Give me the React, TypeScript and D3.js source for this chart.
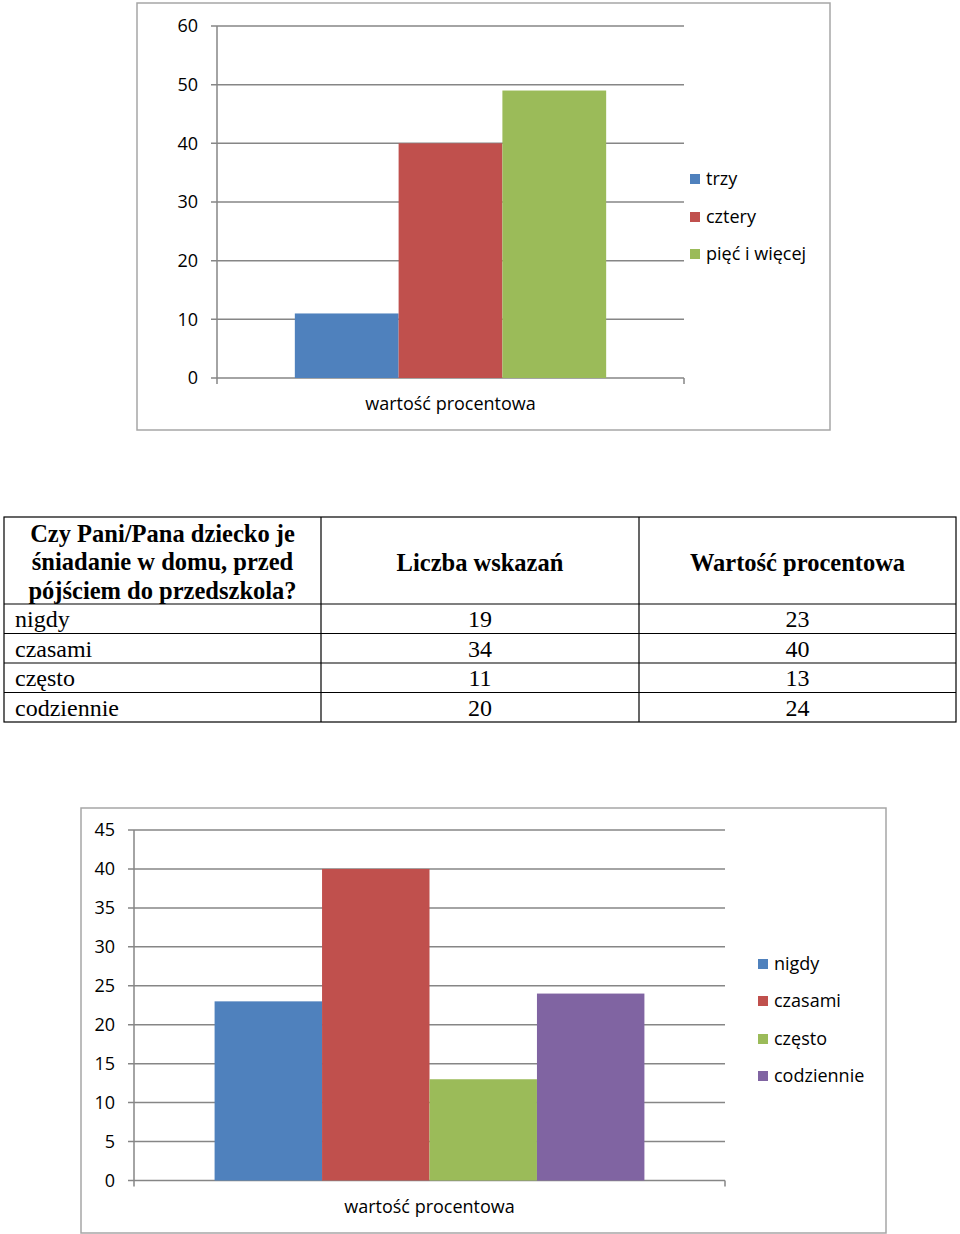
import React from "react";
import * as d3 from "d3";

// ---------- data ----------
const chart1Category = "wartość procentowa";
const chart1Series = ["trzy", "cztery", "pięć i więcej"];
const chart1Values = [11, 40, 49];
const chart1Ticks = [0, 10, 20, 30, 40, 50, 60];

const tableHeader = [
  ["Czy Pani/Pana dziecko je", "śniadanie w domu, przed", "pójściem do przedszkola?"],
  ["Liczba wskazań"],
  ["Wartość procentowa"],
];
const tableRows = ["nigdy", "czasami", "często", "codziennie"];
const tableCounts = [19, 34, 11, 20];
const tablePercents = [23, 40, 13, 24];

const chart2Category = "wartość procentowa";
const chart2Series = ["nigdy", "czasami", "często", "codziennie"];
const chart2Values = [23, 40, 13, 24];
const chart2Ticks = [0, 5, 10, 15, 20, 25, 30, 35, 40, 45];

const seriesColors = ["#4F81BD", "#C0504D", "#9BBB59", "#8064A2"];

// ---------- components ----------
type ChartProps = {
  frame: { x0: number; y0: number; x1: number; y1: number };
  plot: { x0: number; x1: number; yTop: number; yBottom: number };
  category: string;
  series: string[];
  values: number[];
  ticks: number[];
  legendX: number;
  legendYs: number[];
  labelY: number;
};

const sans = "'Open Sans', 'Noto Sans', sans-serif";

function BarChart(p: ChartProps) {
  const { frame, plot } = p;
  const yMax = p.ticks[p.ticks.length - 1];
  const y = d3.scaleLinear().domain([0, yMax]).range([plot.yBottom, plot.yTop]);
  const x = d3.scaleBand<string>().domain([p.category]).range([plot.x0, plot.x1]).paddingOuter(0).paddingInner(0);
  const n = p.series.length;
  const bw = x.bandwidth() / (n + 1.5);
  const groupStart = (x(p.category) ?? 0) + 0.75 * bw;
  const xs = d3.scaleBand<string>().domain(p.series).range([groupStart, groupStart + n * bw]).padding(0);
  const gridColor = "#868686";
  return (
    <g>
      <rect x={frame.x0} y={frame.y0} width={frame.x1 - frame.x0} height={frame.y1 - frame.y0}
        fill="#fff" stroke="#a6a6a6" strokeWidth={1.5} />
      {p.ticks.map((t) => (
        <g key={t}>
          <line x1={plot.x0 - 6} x2={plot.x1} y1={y(t)} y2={y(t)} stroke={gridColor} strokeWidth={1.5} />
          <text x={plot.x0 - 19} y={y(t)} dy="0.36em" textAnchor="end" fontFamily={sans} fontSize={18} fill="#000">{t}</text>
        </g>
      ))}
      <line x1={plot.x0} x2={plot.x0} y1={plot.yTop} y2={plot.yBottom + 6} stroke={gridColor} strokeWidth={1.5} />
      <line x1={plot.x1} x2={plot.x1} y1={plot.yBottom} y2={plot.yBottom + 6} stroke={gridColor} strokeWidth={1.5} />
      {p.series.map((s, i) => (
        <rect key={s} x={xs(s)} y={y(p.values[i])} width={xs.bandwidth()} height={y(0) - y(p.values[i])} fill={seriesColors[i]} />
      ))}
      <text x={(plot.x0 + plot.x1) / 2} y={p.labelY} dy="0.36em" textAnchor="middle" fontFamily={sans} fontSize={18} fill="#000">{p.category}</text>
      {p.series.map((s, i) => (
        <g key={s}>
          <rect x={p.legendX} y={p.legendYs[i] - 5} width={10} height={10} fill={seriesColors[i]} />
          <text x={p.legendX + 16} y={p.legendYs[i]} dy="0.36em" fontFamily={sans} fontSize={18} fill="#000">{s}</text>
        </g>
      ))}
    </g>
  );
}

function Table() {
  const colX = [4, 321, 639, 956];
  const headerTop = 517;
  const headerBottom = 604;
  const rowH = 29.5;
  const rowYs = tableRows.map((_, i) => headerBottom + i * rowH);
  const bottom = headerBottom + tableRows.length * rowH;
  const serif = "'Liberation Serif', 'Times New Roman', serif";
  const centers = [0, 1, 2].map((i) => (colX[i] + colX[i + 1]) / 2);
  return (
    <g>
      <rect x={colX[0]} y={headerTop} width={colX[3] - colX[0]} height={bottom - headerTop} fill="#fff" stroke="#000" strokeWidth={1.2} />
      {[1, 2].map((i) => (
        <line key={i} x1={colX[i]} x2={colX[i]} y1={headerTop} y2={bottom} stroke="#000" strokeWidth={1.2} />
      ))}
      {rowYs.map((ry, i) => (
        <line key={i} x1={colX[0]} x2={colX[3]} y1={ry} y2={ry} stroke="#000" strokeWidth={1.2} />
      ))}
      {tableHeader[0].map((line, i) => (
        <text key={i} x={centers[0]} y={533 + i * 28.5} dy="0.35em" textAnchor="middle" fontFamily={serif} fontWeight="bold" fontSize={24.5}>{line}</text>
      ))}
      <text x={centers[1]} y={562} dy="0.35em" textAnchor="middle" fontFamily={serif} fontWeight="bold" fontSize={24.5}>{tableHeader[1][0]}</text>
      <text x={centers[2]} y={562} dy="0.35em" textAnchor="middle" fontFamily={serif} fontWeight="bold" fontSize={24.5}>{tableHeader[2][0]}</text>
      {tableRows.map((r, i) => {
        const cy = rowYs[i] + rowH / 2;
        return (
          <g key={r}>
            <text x={colX[0] + 11} y={cy} dy="0.35em" fontFamily={serif} fontSize={24}>{r}</text>
            <text x={centers[1]} y={cy} dy="0.35em" textAnchor="middle" fontFamily={serif} fontSize={24}>{tableCounts[i]}</text>
            <text x={centers[2]} y={cy} dy="0.35em" textAnchor="middle" fontFamily={serif} fontSize={24}>{tablePercents[i]}</text>
          </g>
        );
      })}
    </g>
  );
}

export default function App() {
  return (
    <div style={{ position: "absolute", left: 0, top: 0 }}>
      <svg width={960} height={1234} style={{ display: "block" }}>
        <rect width={960} height={1234} fill="#fff" />
        <BarChart
          frame={{ x0: 137, y0: 3, x1: 830, y1: 430 }}
          plot={{ x0: 217, x1: 684, yTop: 26, yBottom: 378 }}
          category={chart1Category}
          series={chart1Series}
          values={chart1Values}
          ticks={chart1Ticks}
          legendX={690}
          legendYs={[179, 217, 254]}
          labelY={404}
        />
        <Table />
        <BarChart
          frame={{ x0: 81, y0: 808, x1: 886, y1: 1233 }}
          plot={{ x0: 134, x1: 725, yTop: 830, yBottom: 1180.5 }}
          category={chart2Category}
          series={chart2Series}
          values={chart2Values}
          ticks={chart2Ticks}
          legendX={758}
          legendYs={[964, 1001, 1039, 1076]}
          labelY={1207}
        />
      </svg>
    </div>
  );
}
